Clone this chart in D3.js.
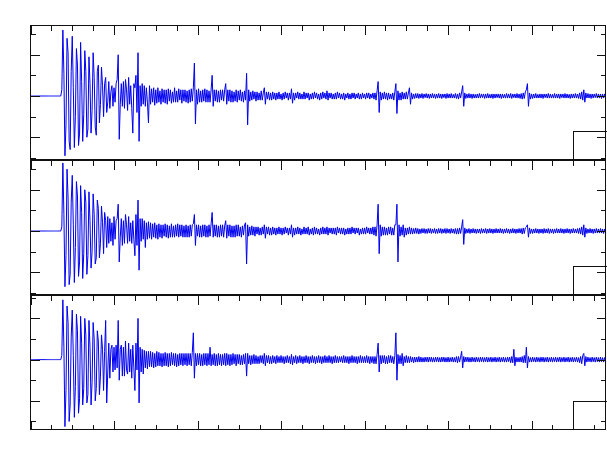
<!DOCTYPE html>
<html>
<head>
<meta charset="utf-8">
<script src="https://cdnjs.cloudflare.com/ajax/libs/d3/7.8.5/d3.min.js"></script>
<style>
body { margin: 0; background: #fff; }
svg { display: block; }
</style>
</head>
<body>
<div id="vis"></div>
<script>
// time axis, in tick units (one minor tick = 1)
var sampleStep = 0.05;
var timeDomain = [0, 27.54];
var timeTicks = [0,1,2,3,4,5,6,7,8,9,10,11,12,13,14,15,16,17,18,19,20,21,22,23,24,25,26,27];
var timeMajor = [0,4,8,12,16,20,24];

// amplitude axis, in tick units
var ampTicks = [-3,-2,-1,0,1,2,3];
var ampMajor = [-2,0,2];
var panelDomains = [[-3.08, 3.42], [-3.08, 3.42], [-3.39, 3.11]];

// clipped box at the lower right of each panel: start (time units), height (amp units)
var boxStart = 26;
var boxHeight = 1.38;

// flat part before the onset
var leadIn = [0,0,0,0,0,0,0,0,0,0, 0,0,0,0,0,0,0,0,0,0, 0,0,0,0,0,0,0,0,0,0];

// traces after the onset, one value every sampleStep, one row per minor tick
var trace1 = [
 0.3, 3.2, 1.1, -2.9, -1.4, 2.8, 2.1, -2.2, -2.6, 1.2, 2.9, 0.4, -2.5, -1.0, 2.3, 1.5, -2.4, -1.8, 2.6, 0.7,
 -2.2, -0.9, 2.2, 1.2, -2.0, -1.6, 1.9, 0.6, -1.8, -0.7, 2.1, 0.9, -1.5, -1.9, 1.2, 1.5, -1.3, -0.4, 1.4, 0.5,
 -1.0, 0.6, 0.9, -0.8, -0.3, 0.7, -0.6, 0.2, 0.5, -0.5, 0.4, -0.3, 0.6, 0.8, 2.0, -2.1, -0.4, 0.6, -0.5, 0.7,
 -0.6, 0.8, 0.3, -0.7, 0.9, -0.4, 0.5, -0.6, -1.8, 0.6, 0.4, 1.0, -0.8, 2.1, -2.2, 0.5, -0.5, 0.6, -0.4, 0.5,
 -0.5, 0.4, -0.3, -1.3, 0.5, -0.4, 0.35, -0.3, 0.4, -0.45, 0.3, -0.35, 0.4, -0.3, 0.25, -0.4, 0.35, -0.3, 0.3, -0.35,
 0.3, -0.4, 0.35, -0.25, 0.3, -0.35, 0.2, -0.3, 0.4, -0.3, 0.25, -0.3, 0.35, -0.2, 0.3, -0.35, 0.3, -0.25, 0.3, -0.3,
 0.25, -0.35, 0.3, -0.3, 0.35, -0.25, 0.4, 1.6, -1.35, 0.3, -0.4, 0.35, -0.3, 0.25, -0.3, 0.3, -0.25, 0.35, -0.3, 0.3,
 -0.3, 0.25, -0.3, 0.3, 1.0, -0.5, 0.3, -0.25, 0.3, -0.3, 0.25, -0.3, 0.3, -0.2, 0.3, -0.25, 0.3, 0.6, -0.4, 0.3,
 -0.25, 0.3, -0.3, 0.25, -0.3, 0.2, -0.25, 0.3, -0.3, 0.25, -0.2, 0.3, -0.25, 0.2, -0.3, 0.25, -0.2, 1.1, -1.4, 0.3,
 -0.25, 0.2, -0.2, 0.25, -0.15, 0.2, -0.25, 0.2, -0.2, 0.15, -0.2, 0.25, -0.2, 0.15, 0.4, -0.4, 0.2, -0.15, 0.2, -0.2,
 0.15, -0.2, 0.2, -0.15, 0.15, -0.2, 0.15, -0.15, 0.2, -0.15, 0.1, -0.2, 0.15, -0.15, 0.2, -0.1, 0.15, -0.2, 0.15, -0.15,
 0.35, -0.35, 0.15, -0.2, 0.15, -0.1, 0.2, -0.15, 0.15, -0.15, 0.1, -0.15, 0.2, -0.15, 0.15, -0.1, 0.15, -0.2, 0.1, -0.15,
 0.15, -0.15, 0.2, -0.1, 0.15, -0.15, 0.1, -0.2, 0.15, -0.15, 0.2, -0.1, 0.15, -0.15, 0.25, -0.2, 0.15, -0.1, 0.15, -0.15,
 0.1, -0.15, 0.15, -0.15, 0.2, -0.1, 0.15, -0.15, 0.1, -0.15, 0.15, -0.2, 0.1, -0.1, 0.15, -0.15, 0.1, -0.15, 0.15, -0.1,
 0.15, -0.15, 0.1, -0.1, 0.15, -0.15, 0.1, -0.15, 0.15, -0.1, 0.1, -0.15, 0.15, -0.1, 0.15, -0.15, 0.1, -0.1, 0.15, -0.15,
 0.15, -0.2, 0.25, 0.7, -0.8, 0.2, -0.2, 0.15, -0.15, 0.2, -0.15, 0.15, -0.2, 0.15, -0.15, 0.1, -0.15, 0.15, -0.2, 0.2,
 0.6, -0.85, 0.25, -0.2, 0.15, -0.2, 0.2, -0.15, 0.15, -0.15, 0.2, -0.15, 0.15, 0.4, -0.4, 0.15, -0.15, 0.1, -0.12, 0.12,
 -0.1, 0.12, -0.12, 0.1, -0.1, 0.12, -0.12, 0.1, -0.08, 0.12, -0.1, 0.1, -0.12, 0.1, -0.1, 0.12, -0.1, 0.1, -0.12, 0.1,
 -0.1, 0.12, -0.1, 0.1, -0.12, 0.1, -0.08, 0.1, -0.12, 0.12, -0.1, 0.1, -0.1, 0.12, -0.1, 0.08, -0.1, 0.12, -0.12, 0.1,
 -0.15, 0.15, -0.1, 0.2, 0.5, -0.5, 0.15, -0.12, 0.1, -0.1, 0.12, -0.1, 0.1, -0.12, 0.1, -0.1, 0.08, -0.1, 0.1, -0.1,
 0.12, -0.1, 0.1, -0.08, 0.1, -0.12, 0.1, -0.1, 0.12, -0.1, 0.08, -0.1, 0.1, -0.12, 0.1, -0.1, 0.1, -0.08, 0.1, -0.1,
 0.1, -0.12, 0.1, -0.1, 0.08, -0.1, 0.12, -0.1, 0.1, -0.1, 0.12, -0.12, 0.1, -0.08, 0.1, -0.1, 0.12, -0.1, 0.1, -0.12,
 0.12, -0.15, 0.15, -0.12, 0.2, 0.3, 0.6, -0.5, 0.15, -0.15, 0.1, -0.12, 0.1, -0.1, 0.12, -0.1, 0.08, -0.1, 0.1, -0.1,
 0.1, -0.12, 0.1, -0.08, 0.1, -0.1, 0.12, -0.1, 0.1, -0.1, 0.08, -0.1, 0.12, -0.1, 0.1, -0.1, 0.1, -0.12, 0.1, -0.08,
 0.1, -0.1, 0.12, -0.1, 0.1, -0.1, 0.08, -0.12, 0.1, -0.1, 0.1, -0.1, 0.12, -0.1, 0.1, -0.12, 0.15, -0.15, 0.2, -0.2,
 0.3, -0.3, 0.15, -0.1, 0.12, -0.1, 0.1, -0.12, 0.1, -0.1, 0.1, -0.08, 0.12, -0.1, 0.1, -0.1, 0.1, -0.12, 0.1, -0.1, 0.1, -0.1
];

var trace2 = [
 0.2, 3.3, 0.8, -2.7, -1.2, 3.0, 1.6, -2.6, -2.1, 1.4, 2.7, 0.3, -2.5, -0.8, 2.4, 1.7, -2.2, -1.5, 2.2, 0.9,
 -2.3, -1.1, 2.0, 1.4, -2.1, -1.2, 1.9, 0.5, -1.8, -1.0, 1.8, 0.8, -1.6, -1.3, 1.5, 1.1, -1.3, -0.6, 1.2, 0.4,
 -1.1, 0.9, 0.5, -0.8, 0.7, -0.6, 0.6, -0.5, 0.4, -0.7, 0.7, -0.4, 0.5, 0.6, 1.3, -1.5, -0.3, 0.6, -0.7, 0.5,
 -0.6, 0.8, 0.3, -0.6, 0.7, -0.5, 0.4, -0.6, 0.5, -0.4, -1.2, 0.8, -0.7, 1.5, -1.9, 0.6, -0.5, 0.6, -0.4, 0.5,
 -0.8, 0.4, -0.4, 0.45, -0.35, 0.4, -0.4, 0.35, -0.3, 0.4, -0.35, 0.3, -0.4, 0.35, -0.3, 0.3, -0.35, 0.3, -0.25, 0.35,
 -0.3, 0.3, -0.35, 0.25, -0.3, 0.35, -0.3, 0.25, -0.3, 0.3, -0.25, 0.35, -0.3, 0.3, -0.25, 0.3, -0.3, 0.25, -0.3, 0.3,
 -0.3, 0.25, -0.3, 0.3, -0.25, 0.3, 0.35, 0.8, -0.7, 0.3, -0.25, 0.3, -0.3, 0.25, -0.3, 0.3, -0.25, 0.3, -0.3, 0.25,
 -0.3, 0.3, -0.25, 0.35, 0.9, -0.3, 0.3, -0.25, 0.3, -0.3, 0.25, -0.3, 0.3, -0.25, 0.3, -0.3, 0.25, 0.5, -0.35, 0.3,
 -0.25, 0.3, -0.3, 0.25, -0.3, 0.25, -0.3, 0.3, -0.25, 0.3, -0.25, 0.2, -0.3, 0.25, -0.2, 0.3, 0.4, -1.6, 0.3, -0.25,
 0.2, -0.2, 0.25, -0.2, 0.2, -0.25, 0.2, -0.15, 0.2, -0.2, 0.15, -0.2, 0.2, -0.15, 0.3, -0.35, 0.2, -0.15, 0.2, -0.2,
 0.15, -0.2, 0.2, -0.15, 0.15, -0.2, 0.15, -0.15, 0.2, -0.15, 0.15, -0.2, 0.15, -0.15, 0.2, -0.1, 0.15, -0.2, 0.15, -0.15,
 0.3, -0.3, 0.15, -0.2, 0.15, -0.15, 0.2, -0.15, 0.15, -0.2, 0.1, -0.15, 0.2, -0.15, 0.15, -0.15, 0.2, -0.2, 0.1, -0.15,
 0.15, -0.2, 0.2, -0.15, 0.15, -0.15, 0.1, -0.2, 0.15, -0.15, 0.2, -0.15, 0.15, -0.15, 0.2, -0.2, 0.15, -0.1, 0.15, -0.15,
 0.15, -0.15, 0.15, -0.2, 0.2, -0.1, 0.15, -0.15, 0.15, -0.15, 0.15, -0.2, 0.1, -0.15, 0.15, -0.15, 0.15, -0.15, 0.2, -0.1,
 0.15, -0.15, 0.15, -0.1, 0.15, -0.2, 0.1, -0.15, 0.15, -0.15, 0.15, -0.15, 0.2, -0.1, 0.15, -0.15, 0.15, -0.15, 0.2, -0.2,
 0.2, -0.25, 0.3, 1.3, -1.1, 0.3, -0.25, 0.2, -0.2, 0.2, -0.2, 0.15, -0.2, 0.2, -0.15, 0.2, -0.2, 0.15, -0.2, 0.3,
 0.3, 1.3, -1.5, 0.3, -0.25, 0.2, -0.2, 0.3, -0.3, 0.15, -0.2, 0.15, -0.15, 0.2, -0.15, 0.15, -0.15, 0.12, -0.12, 0.15,
 -0.12, 0.12, -0.15, 0.1, -0.12, 0.12, -0.1, 0.12, -0.12, 0.1, -0.12, 0.12, -0.1, 0.12, -0.12, 0.1, -0.1, 0.12, -0.12, 0.1,
 -0.12, 0.12, -0.1, 0.12, -0.12, 0.1, -0.1, 0.12, -0.12, 0.12, -0.1, 0.1, -0.12, 0.12, -0.1, 0.1, -0.12, 0.12, -0.15, 0.12,
 -0.15, 0.15, -0.12, 0.2, 0.55, -0.65, 0.15, -0.12, 0.1, -0.1, 0.12, -0.12, 0.1, -0.1, 0.12, -0.1, 0.1, -0.12, 0.1, -0.1,
 0.1, -0.12, 0.12, -0.1, 0.1, -0.1, 0.12, -0.12, 0.1, -0.1, 0.12, -0.1, 0.1, -0.12, 0.1, -0.1, 0.12, -0.1, 0.1, -0.1,
 0.12, -0.1, 0.1, -0.12, 0.1, -0.1, 0.12, -0.1, 0.1, -0.12, 0.1, -0.1, 0.12, -0.1, 0.1, -0.12, 0.1, -0.1, 0.12, -0.1,
 0.12, -0.15, 0.15, -0.12, 0.15, 0.2, 0.3, -0.3, 0.15, -0.12, 0.1, -0.12, 0.1, -0.1, 0.12, -0.1, 0.1, -0.12, 0.1, -0.1,
 0.1, -0.12, 0.12, -0.1, 0.1, -0.1, 0.12, -0.12, 0.1, -0.1, 0.1, -0.12, 0.1, -0.1, 0.12, -0.1, 0.1, -0.1, 0.12, -0.1,
 0.1, -0.12, 0.1, -0.1, 0.12, -0.1, 0.1, -0.12, 0.1, -0.1, 0.12, -0.1, 0.1, -0.1, 0.12, -0.12, 0.15, -0.15, 0.2, -0.2,
 0.3, -0.3, 0.15, -0.12, 0.1, -0.1, 0.12, -0.1, 0.1, -0.12, 0.1, -0.1, 0.12, -0.1, 0.1, -0.1, 0.12, -0.1, 0.1, -0.12, 0.1, -0.1
];

var trace3 = [
 0.2, 2.9, 0.6, -3.25, -1.5, 2.6, 1.8, -3.0, -2.2, 1.1, 2.4, 0.2, -2.8, -1.3, 2.2, 1.4, -2.6, -1.9, 2.1, 0.8,
 -2.2, -1.4, 2.0, 1.2, -2.1, -1.7, 1.9, 0.6, -2.2, -1.1, 1.8, 1.0, -2.0, -1.4, 1.4, 0.9, -1.7, -0.8, 1.2, 0.5,
 -1.5, 0.4, 1.9, -2.1, -0.6, 0.8, -0.9, 0.5, 0.7, -0.6, 0.6, -0.5, 0.7, -0.4, 1.9, -1.0, 0.5, 0.7, -0.8, 0.6,
 -0.8, 0.9, -0.5, -0.7, 0.8, -0.6, 0.5, -0.9, 0.7, -0.4, -1.5, 0.8, -0.5, 2.0, -2.1, 0.6, -0.6, 0.5, -0.7, 0.45,
 -0.4, 0.4, -0.45, 0.4, -0.35, 0.4, -0.35, 0.35, -0.4, 0.3, -0.35, 0.4, -0.3, 0.35, -0.3, 0.3, -0.35, 0.3, -0.3, 0.35,
 -0.3, 0.3, -0.35, 0.3, -0.3, 0.35, -0.25, 0.3, -0.3, 0.3, -0.35, 0.25, -0.3, 0.3, -0.25, 0.3, -0.3, 0.3, -0.25, 0.3,
 -0.3, 0.3, -0.25, 0.3, -0.3, 0.35, 1.3, -0.9, 0.3, -0.3, 0.3, -0.25, 0.3, -0.3, 0.25, -0.3, 0.3, -0.25, 0.3, -0.3,
 0.3, -0.25, 0.6, -0.3, 0.25, -0.25, 0.3, -0.3, 0.25, -0.3, 0.3, -0.25, 0.25, -0.3, 0.25, -0.25, 0.3, -0.3, 0.3, -0.25,
 0.25, -0.3, 0.25, -0.25, 0.3, -0.2, 0.25, -0.3, 0.25, -0.2, 0.25, -0.25, 0.2, -0.25, 0.25, -0.2, 0.3, -0.8, 0.3, -0.2,
 0.2, -0.25, 0.2, -0.2, 0.25, -0.2, 0.2, -0.2, 0.15, -0.2, 0.2, -0.15, 0.2, -0.2, 0.3, -0.3, 0.2, -0.15, 0.2, -0.2,
 0.15, -0.2, 0.2, -0.15, 0.15, -0.2, 0.2, -0.15, 0.15, -0.15, 0.2, -0.15, 0.15, -0.2, 0.15, -0.15, 0.2, -0.15, 0.15, -0.2,
 0.25, -0.25, 0.15, -0.15, 0.2, -0.2, 0.15, -0.15, 0.2, -0.15, 0.15, -0.2, 0.15, -0.15, 0.2, -0.15, 0.15, -0.2, 0.15, -0.15,
 0.2, -0.15, 0.15, -0.2, 0.15, -0.15, 0.2, -0.15, 0.15, -0.2, 0.15, -0.15, 0.2, -0.15, 0.15, -0.15, 0.2, -0.15, 0.15, -0.2,
 0.15, -0.15, 0.2, -0.15, 0.15, -0.15, 0.15, -0.12, 0.15, -0.15, 0.2, -0.15, 0.15, -0.15, 0.15, -0.2, 0.15, -0.15, 0.2, -0.15,
 0.15, -0.15, 0.15, -0.2, 0.15, -0.15, 0.2, -0.15, 0.15, -0.15, 0.15, -0.15, 0.2, -0.15, 0.15, -0.2, 0.15, -0.15, 0.15, -0.2,
 0.15, -0.2, 0.25, 0.8, -0.6, 0.2, -0.2, 0.2, -0.15, 0.2, -0.2, 0.15, -0.2, 0.2, -0.15, 0.2, -0.15, 0.15, -0.2, 0.2,
 1.3, -1.0, 0.25, -0.2, 0.2, -0.2, 0.3, -0.3, 0.15, -0.15, 0.2, -0.15, 0.15, -0.15, 0.15, -0.12, 0.12, -0.15, 0.12, -0.12,
 0.12, -0.12, 0.15, -0.12, 0.12, -0.12, 0.1, -0.12, 0.12, -0.1, 0.12, -0.12, 0.12, -0.1, 0.12, -0.12, 0.1, -0.12, 0.12, -0.1,
 0.12, -0.12, 0.1, -0.12, 0.12, -0.1, 0.12, -0.12, 0.1, -0.12, 0.12, -0.12, 0.1, -0.1, 0.12, -0.12, 0.1, -0.12, 0.15, -0.15,
 0.15, -0.12, 0.12, 0.4, -0.4, 0.15, -0.12, 0.12, -0.1, 0.12, -0.12, 0.1, -0.12, 0.12, -0.1, 0.1, -0.12, 0.12, -0.1, 0.1,
 -0.12, 0.12, -0.1, 0.12, -0.12, 0.1, -0.1, 0.12, -0.12, 0.1, -0.1, 0.12, -0.12, 0.1, -0.1, 0.12, -0.12, 0.1, -0.1, 0.12,
 -0.12, 0.1, -0.1, 0.12, -0.12, 0.1, -0.12, 0.12, -0.1, 0.12, -0.15, 0.15, -0.15, 0.5, -0.3, 0.12, -0.12, 0.1, -0.12, 0.12,
 -0.12, 0.15, -0.15, 0.2, -0.15, 0.6, -0.4, 0.15, -0.12, 0.1, -0.12, 0.12, -0.1, 0.1, -0.12, 0.12, -0.1, 0.1, -0.12, 0.12,
 -0.1, 0.12, -0.12, 0.1, -0.1, 0.12, -0.12, 0.1, -0.1, 0.12, -0.12, 0.1, -0.1, 0.12, -0.12, 0.1, -0.1, 0.12, -0.12, 0.1,
 -0.1, 0.12, -0.12, 0.1, -0.1, 0.12, -0.12, 0.1, -0.1, 0.12, -0.12, 0.1, -0.1, 0.12, -0.12, 0.1, -0.15, 0.15, -0.2, 0.2,
 0.3, -0.3, 0.15, -0.12, 0.12, -0.1, 0.1, -0.12, 0.12, -0.1, 0.1, -0.12, 0.12, -0.1, 0.1, -0.12, 0.12, -0.1, 0.1, -0.12, 0.1, -0.1
];

var traces = [leadIn.concat(trace1), leadIn.concat(trace2), leadIn.concat(trace3)];

var width = 607;
var height = 459;
var margin = {left: 30, right: 2, top: 25};
var panelHeight = 134;
var panelGap = 1;
var plotWidth = width - margin.left - margin.right;

var svg = d3.select("#vis")
    .append("svg")
    .attr("width", width)
    .attr("height", height);

var x = d3.scaleLinear()
    .domain(timeDomain)
    .range([0, plotWidth]);

var timeMinor = timeTicks.filter(function(t) { return timeMajor.indexOf(t) < 0; });
var ampMinor = ampTicks.filter(function(a) { return ampMajor.indexOf(a) < 0; });

traces.forEach(function(trace, p) {
    var top = margin.top + p * (panelHeight + panelGap);
    var g = svg.append("g")
        .attr("transform", "translate(" + (margin.left + 0.5) + "," + (top + 0.5) + ")");

    var y = d3.scaleLinear()
        .domain(panelDomains[p])
        .range([panelHeight, 0]);

    var line = d3.line()
        .x(function(d, i) { return x(i * sampleStep); })
        .y(function(d) { return y(d); });

    // the trace
    g.append("path")
        .datum(trace)
        .attr("fill", "none")
        .attr("stroke", "#0000f0")
        .attr("stroke-width", 1)
        .attr("d", line);

    // frame
    g.append("rect")
        .attr("width", plotWidth)
        .attr("height", panelHeight)
        .attr("fill", "none")
        .attr("stroke", "#111")
        .attr("shape-rendering", "crispEdges");

    // box in the lower right corner (cut off by the figure edge)
    g.append("path")
        .attr("d", "M" + x(boxStart) + "," + panelHeight +
                   "V" + y(panelDomains[p][0] + boxHeight) +
                   "H" + (plotWidth + 10))
        .attr("fill", "none")
        .attr("stroke", "#111")
        .attr("shape-rendering", "crispEdges");

    // inward ticks, minor then major
    var sides = [
        {axis: d3.axisLeft(y), pos: "translate(0,0)", minor: ampMinor, major: ampMajor},
        {axis: d3.axisRight(y), pos: "translate(" + plotWidth + ",0)", minor: ampMinor, major: ampMajor},
        {axis: d3.axisTop(x), pos: "translate(0,0)", minor: timeMinor, major: timeMajor}
    ];
    if (p === traces.length - 1) {
        sides.push({axis: d3.axisBottom(x), pos: "translate(0," + panelHeight + ")", minor: timeMinor, major: timeMajor});
    }
    sides.forEach(function(s) {
        [[s.minor, -5], [s.major, -9]].forEach(function(set) {
            var ax = g.append("g")
                .attr("transform", s.pos)
                .call(s.axis.tickValues(set[0]).tickSize(set[1]).tickFormat(""));
            ax.selectAll(".domain").remove();
            ax.selectAll("line")
                .attr("stroke", "#111")
                .attr("shape-rendering", "crispEdges");
        });
    });
});
</script>
</body>
</html>
